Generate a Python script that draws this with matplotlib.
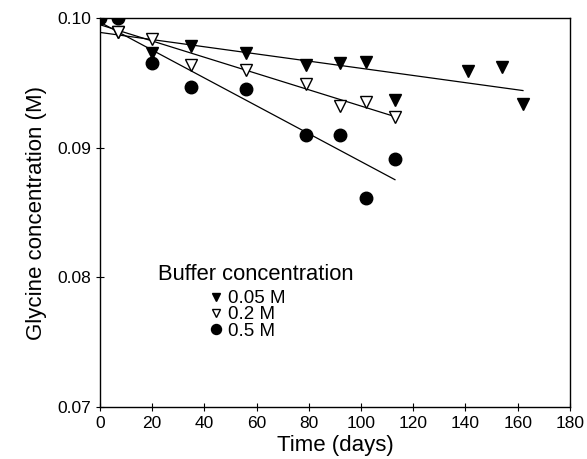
import numpy as np
import matplotlib
matplotlib.use('Agg')
import matplotlib.pyplot as plt

plt.rcParams['font.family'] = ['Liberation Sans', 'DejaVu Sans']

# glycine concentration (M) vs time (days), three buffer strengths
days_005 = [0, 7, 20, 35, 56, 79, 92, 102, 113, 141, 154, 162]
gly_005 = [0.1000, 0.0989, 0.0973, 0.0978, 0.0973, 0.0964, 0.0965, 0.0966,
           0.0937, 0.0959, 0.0962, 0.0934]

days_02 = [0, 7, 20, 35, 56, 79, 92, 102, 113]
gly_02 = [0.1000, 0.0989, 0.0984, 0.0964, 0.0960, 0.0949, 0.0932, 0.0935, 0.0924]

days_05 = [0, 7, 20, 35, 56, 79, 92, 102, 113]
gly_05 = [0.1000, 0.1000, 0.0965, 0.0947, 0.0945, 0.0910, 0.0910, 0.0861, 0.0891]

labels = ['0.05 M', '0.2 M', '0.5 M']
x_ticks = np.arange(0, 181, 20)
y_ticks = [0.07, 0.08, 0.09, 0.10]

fig = plt.figure(figsize=(5.87, 4.59), dpi=100)
ax = fig.add_axes([0.170, 0.113, 0.801, 0.848])

series = [
    (days_005, gly_005, dict(marker='v', mfc='black', mec='black', ms=8)),
    (days_02, gly_02, dict(marker='v', mfc='white', mec='black', ms=8, mew=1.0)),
    (days_05, gly_05, dict(marker='o', mfc='black', mec='black', ms=9)),
]

handles = []
for (x, y, style), lab in zip(series, labels):
    x = np.array(x, dtype=float)
    y = np.array(y)
    slope, icpt = np.polyfit(x, y, 1)
    xx = np.array([0, x.max()])
    ax.plot(xx, icpt + slope * xx, color='black', lw=0.9, zorder=1)
    h, = ax.plot(x, y, ls='none', label=lab, zorder=3, **style)
    handles.append(h)

ax.set_xlim(0, 180)
ax.set_ylim(0.07, 0.10)
ax.set_xticks(x_ticks)
ax.set_yticks(y_ticks)
ax.set_yticklabels(['0.07', '0.08', '0.09', '0.10'])
ax.tick_params(direction='inout', length=6, width=0.8, labelsize=12.5)
for sp in ax.spines.values():
    sp.set_linewidth(1.0)

ax.set_xlabel('Time (days)', fontsize=16, labelpad=3)
ax.set_ylabel('Glycine concentration (M)', fontsize=16, labelpad=7)

ax.text(0.123, 0.34, 'Buffer concentration', transform=ax.transAxes,
        fontsize=15.8, va='center', ha='left')
ax.legend(handles=handles, loc='upper left', bbox_to_anchor=(0.219, 0.32),
          frameon=False, fontsize=13.5, markerscale=0.8, handlelength=0.6,
          handletextpad=0.35, labelspacing=-0.05, borderaxespad=0)

fig.savefig('out.png', dpi=100)
